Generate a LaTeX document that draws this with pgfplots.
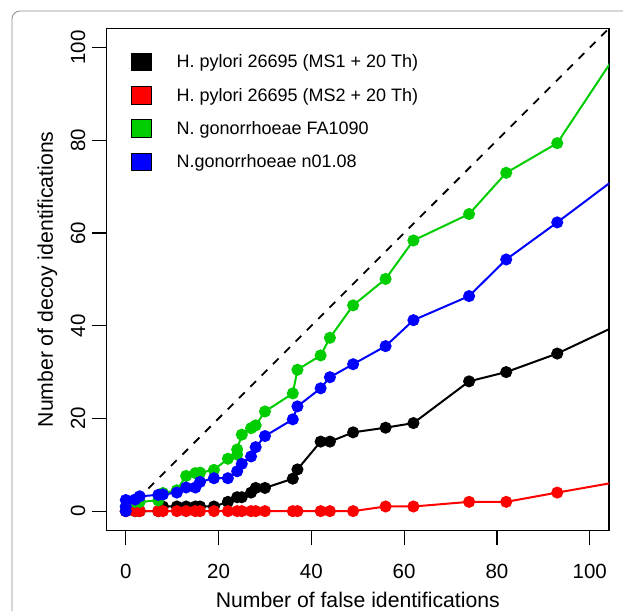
\documentclass[border=0pt]{standalone}
\usepackage{fontspec}
\setmainfont{Liberation Sans}
\usepackage{pgfplots}
\pgfplotsset{compat=1.18}
\definecolor{rgreen}{HTML}{00CD00}
\newcommand{\legf}{\fontsize{18}{21.6}\selectfont}
\newcommand{\tickf}{\fontsize{20.5}{24.6}\selectfont}
\newcommand{\labf}{\fontsize{21.2}{25.4}\selectfont}

\begin{document}
\begin{tikzpicture}[x=1pt,y=1pt]
\useasboundingbox (0,0) rectangle (623,611);
\draw[black!45, line width=0.8pt, rounded corners=8pt] (12,0) -- (12,600) -- (623,600);
\begin{axis}[
    at={(106.5pt,80.6pt)}, anchor=south west,
    scale only axis,
    width=502.5pt, height=502pt,
    xmin=-4.16, xmax=104.16,
    ymin=-4.16, ymax=104.16,
    xtick={0,20,...,100},
    ytick={0,20,...,100},
    xtick pos=bottom, ytick pos=left,
    axis line style={line width=1.5pt},
    tick align=outside,
    major tick length=15pt,
    tick style={line width=1.2pt, black},
    /pgf/number format/assume math mode=true,
    tick label style={font=\tickf, inner sep=0pt},
    xticklabel style={anchor=base},
    yticklabel style={rotate=90, anchor=base},
    xticklabel shift=33.1pt,
    yticklabel shift=6.5pt,
    xlabel={Number of false identifications},
    ylabel={Number of decoy identifications},
    label style={font=\labf, inner sep=0pt},
    xlabel style={at={(axis description cs:0.5,-0.1538)}, anchor=base},
    ylabel style={at={(axis description cs:-0.1067,0.5)}, anchor=base},
    legend style={at={(axis description cs:0.0474,0.9518)}, anchor=north west,
        draw=none, fill=none, font=\legf, inner sep=0pt,
        row sep=15pt, column sep=24.6pt, nodes={inner sep=0pt}},
    legend cell align=left,
    every axis plot/.append style={line width=2pt},
    mark size=5pt,
]
\addplot[black, dashed, dash pattern=on 8pt off 8pt, line width=1.8pt, forget plot]
  coordinates {(0,0) (110,110)};

\addplot[black, mark=*, mark options={solid},
  legend image code/.code={\draw[black, line width=0.8pt, fill=black] (0pt,-8.75pt) rectangle (20.7pt,8.75pt);}]
  coordinates {
  (0,0) (2,0) (3,0) (7,0) (8,1) (11,1) (13,1) (15,1) (16,1) (19,1)
  (22,2) (24,3) (25,3) (27,4) (28,5) (30,5) (36,7) (37,9) (42,15) (44,15)
  (49,17) (56,18) (62,19) (74,28) (82,30) (93,34) (110,42)};
\addlegendentry{H. pylori 26695 (MS1 + 20 Th)}

\addplot[red, mark=*, mark options={solid},
  legend image code/.code={\draw[black, line width=0.8pt, fill=red] (0pt,-8.75pt) rectangle (20.7pt,8.75pt);}]
  coordinates {
  (0,0) (2,0) (3,0) (7,0) (8,0) (11,0) (13,0) (15,0) (16,0) (19,0)
  (22,0) (24,0) (25,0) (27,0) (28,0) (30,0) (36,0) (37,0) (42,0) (44,0)
  (49,0) (56,1) (62,1) (74,2) (82,2) (93,4) (110,7)};
\addlegendentry{H. pylori 26695 (MS2 + 20 Th)}

\addplot[rgreen, mark=*, mark options={solid},
  legend image code/.code={\draw[black, line width=0.8pt, fill=rgreen] (0pt,-8.75pt) rectangle (20.7pt,8.75pt);}]
  coordinates {
  (0,1) (2,2) (3,2) (7,2.3) (8,3.9) (11,4.5) (13,7.6) (15,8.2) (16,8.3) (19,8.9)
  (22,11.3) (24,12.2) (24,13.3) (25,16.5) (27,17.9) (28,18.5) (30,21.5) (36,25.4) (37,30.5) (42,33.6)
  (44,37.4) (49,44.4) (56,50.1) (62,58.4) (74,64.1) (82,73.0) (93,79.4) (110,105.1)};
\addlegendentry{N. gonorrhoeae FA1090}

\addplot[blue, mark=*, mark options={solid},
  legend image code/.code={\draw[black, line width=0.8pt, fill=blue] (0pt,-8.75pt) rectangle (20.7pt,8.75pt);}]
  coordinates {
  (0,0) (0,1) (0,2.4) (2,2.5) (3,3.2) (7,3.5) (8,3.6) (11,4.0) (13,5.1) (15,5.1) (16,6.3) (19,7.1)
  (22,7.1) (24,8.6) (25,10.2) (27,11.8) (28,13.8) (30,16.2) (36,19.8) (37,22.6) (42,26.5) (44,28.9)
  (49,31.7) (56,35.6) (62,41.2) (74,46.4) (82,54.3) (93,62.3) (110,75.1)};
\addlegendentry{N.gonorrhoeae n01.08}
\end{axis}
\end{tikzpicture}
\end{document}
